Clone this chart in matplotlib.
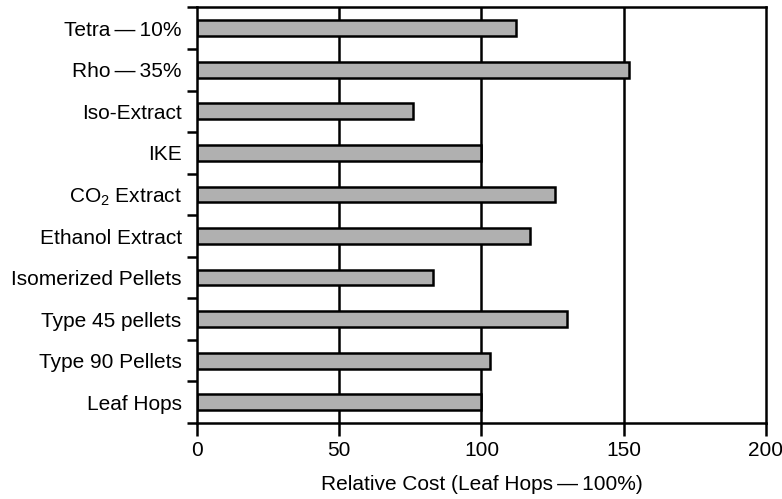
import matplotlib.pyplot as plt

plt.rcParams['font.family'] = ['Liberation Sans', 'DejaVu Sans']
plt.rcParams['mathtext.default'] = 'regular'

products = ["Leaf Hops", "Type 90 Pellets", "Type 45 pellets", "Isomerized Pellets",
            "Ethanol Extract", "CO$_2$ Extract", "IKE", "Iso-Extract",
            "Rho\u2009\u2014\u200935%", "Tetra\u2009\u2014\u200910%"]
relative_cost = [100, 103, 130, 83, 117, 126, 100, 76, 152, 112]

fig = plt.figure(figsize=(7.82, 4.99), dpi=100)
ax = fig.add_axes([0.2519, 0.1523, 0.7276, 0.8327])

pos = range(len(products))
for x in [50, 100, 150]:
    ax.axvline(x, color='black', lw=1.8, zorder=1)
ax.barh(pos, relative_cost, height=0.38, color='#b0b0b0', edgecolor='black',
        linewidth=1.8, zorder=2)

ax.set_xlim(0, 200)
ax.set_ylim(-0.5, len(products) - 0.5)
ax.set_xticks([0, 50, 100, 150, 200])
# category ticks sit between the bars, names go on minor ticks
ax.set_yticks([p - 0.5 for p in pos] + [len(products) - 0.5])
ax.set_yticks(list(pos), minor=True)
ax.set_yticklabels([], minor=False)
ax.set_yticklabels(products, minor=True)
ax.tick_params(axis='y', which='minor', length=0, pad=11, labelsize=15)
ax.tick_params(axis='y', which='major', direction='out', length=7, width=1.8)
ax.tick_params(axis='x', direction='out', length=9, width=1.8, pad=4, labelsize=15)

for s in ax.spines.values():
    s.set_linewidth(1.8)

ax.set_xlabel("Relative Cost (Leaf Hops\u2009\u2014\u2009100%)", fontsize=15, labelpad=11)

fig.savefig("out.png", dpi=100)
